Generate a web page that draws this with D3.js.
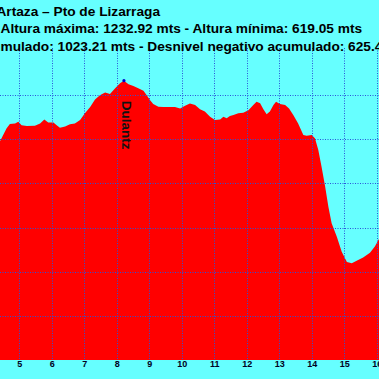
<!DOCTYPE html>
<html><head><meta charset="utf-8">
<script src="https://cdn.jsdelivr.net/npm/d3@7"></script>
<style>html,body{margin:0;padding:0;background:#66ffff;overflow:hidden}</style>
</head><body>
<script>
const titleLines = [
  "Artaza – Pto de Lizarraga",
  "Altura máxima: 1232.92 mts - Altura mínima: 619.05 mts",
  "Desnivel positivo acumulado: 1023.21 mts - Desnivel negativo acumulado: 625.45 mts"
];
const kmTicks = [5,6,7,8,9,10,11,12,13,14,15,16];
const elevGrid = [700,800,900,1000,1100,1200];
const km = [4.40,4.61,4.71,4.87,4.97,5.07,5.23,5.48,5.64,5.77,5.89,6.05,6.15,6.25,6.41,6.56,6.71,6.87,7.02,7.18,7.33,7.48,7.64,7.79,7.95,8.10,8.22,8.36,8.51,8.66,8.82,8.92,9.02,9.12,9.28,9.43,9.59,9.79,9.95,10.10,10.25,10.41,10.56,10.71,10.87,11.02,11.18,11.28,11.38,11.48,11.59,11.74,11.89,12.05,12.20,12.30,12.41,12.51,12.61,12.71,12.82,12.90,13.02,13.18,13.30,13.43,13.58,13.67,13.74,13.84,14.00,14.10,14.20,14.30,14.41,14.51,14.61,14.77,14.92,15.08,15.23,15.38,15.58,15.79,15.94,16.08];
const elev = [1095,1125,1135,1136,1140,1132,1130,1131,1136,1145,1138,1138,1132,1126,1129,1134,1136,1144,1159,1173,1190,1200,1206,1203,1216,1227,1232.92,1225,1221,1216,1210,1200,1189,1180,1174,1173,1173,1173,1170,1176,1181,1178,1168,1163,1151,1144,1145,1151,1148,1153,1155,1159,1160,1166,1178,1185,1182,1168,1157,1163,1178,1185,1180,1178,1170,1155,1136,1121,1110,1108,1110,1102,1076,1038,993,947,910,879,845,822,819,825,832,843,857,876];
const peakName = "Dulantz";
const peakKm = 8.22, peakElev = 1232.92;

const W = 379, H = 379;
const x = d3.scaleLinear().domain([5,16]).range([19.3,376.8]);
const y = d3.scaleLinear().domain([600,1200]).range([360,95.2]);
const data = km.map((k,i)=>({k, e: elev[i]}));

const svg = d3.select("body").append("svg").attr("width",W).attr("height",H)
  .style("font-family","'Liberation Sans', Arial, sans-serif");
svg.append("rect").attr("width",W).attr("height",H).attr("fill","#66ffff");

const area = d3.area().x(d=>x(d.k)).y0(y(600)).y1(d=>y(d.e));
svg.append("path").datum(data).attr("d",area).attr("fill","#ff0000");

const gridColor = "#2a55d8";
svg.append("g").selectAll("line").data(kmTicks).join("line")
  .attr("x1",d=>Math.round(x(d))+0.5).attr("x2",d=>Math.round(x(d))+0.5)
  .attr("y1",48).attr("y2",y(600))
  .attr("stroke",gridColor).attr("stroke-width",1).attr("stroke-dasharray","1,1.5");
svg.append("g").selectAll("line").data(elevGrid).join("line")
  .attr("x1",0).attr("x2",W)
  .attr("y1",d=>Math.round(y(d))+0.5).attr("y2",d=>Math.round(y(d))+0.5)
  .attr("stroke",gridColor).attr("stroke-width",1).attr("stroke-dasharray","1,1.5");

// x axis labels
const xAxis = d3.axisBottom(x).tickValues(kmTicks).tickSize(0).tickPadding(0).tickFormat(d3.format("d"));
const gx = svg.append("g").attr("transform",`translate(0,${y(600)})`).call(xAxis);
gx.select(".domain").remove();
gx.selectAll("text").attr("dy",null).attr("y",7).attr("fill","#000022")
  .style("font-size","9px").style("font-weight","bold").style("font-family","'Liberation Sans', Arial, sans-serif");

// peak marker and label
svg.append("circle").attr("cx",x(peakKm)).attr("cy",y(peakElev)).attr("r",1.6).attr("fill","#0000cc");
svg.append("text").text(peakName)
  .attr("transform",`translate(${x(peakKm)-1.5},${y(peakElev)+20}) rotate(90)`)
  .attr("fill","#111").style("font-size","13.5px").style("font-weight","bold");

// titles
const fs = "13.7px";
svg.append("text").text(titleLines[0]).attr("x",160).attr("y",15.5).attr("text-anchor","end")
  .style("font-size",fs).style("font-weight","bold").attr("fill","#000");
svg.append("text").text(titleLines[1]).attr("x",0.5).attr("y",33).attr("text-anchor","start")
  .style("font-size",fs).style("font-weight","bold").attr("fill","#000");
const tmp = svg.append("text").text("Desnivel positivo acu").style("font-size",fs).style("font-weight","bold");
const pw = tmp.node().getComputedTextLength(); tmp.remove();
svg.append("text").text(titleLines[2]).attr("x",-pw+0.5).attr("y",50.5).attr("text-anchor","start")
  .style("font-size",fs).style("font-weight","bold").attr("fill","#000");
</script>
</body></html>
